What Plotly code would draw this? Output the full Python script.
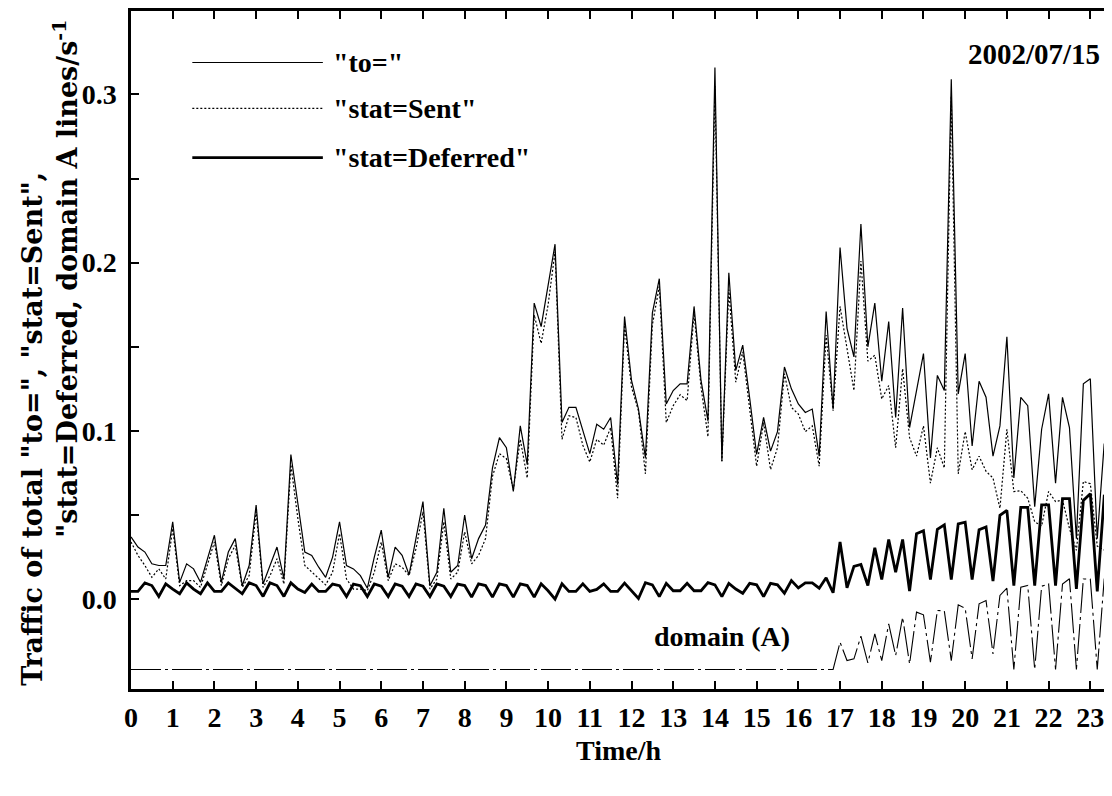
import plotly.graph_objects as go

# ---- data (10-minute samples, hours) ----
time_h = [round(i * 10 / 60, 4) for i in range(144)]

to_total = [
    0.037, 0.031, 0.028, 0.021, 0.020, 0.020, 0.046, 0.010, 0.021, 0.018, 0.010, 0.024,
    0.038, 0.010, 0.028, 0.036, 0.008, 0.020, 0.056, 0.009, 0.020, 0.031, 0.012, 0.086,
    0.057, 0.028, 0.026, 0.019, 0.013, 0.025, 0.046, 0.020, 0.018, 0.014, 0.0065, 0.025,
    0.041, 0.013, 0.031, 0.026, 0.0145, 0.036, 0.058, 0.008, 0.016, 0.054, 0.016, 0.020,
    0.050, 0.024, 0.036, 0.044, 0.078, 0.096, 0.090, 0.064, 0.103, 0.080, 0.176, 0.162,
    0.187, 0.211, 0.105, 0.114, 0.114, 0.100, 0.0865, 0.104, 0.101, 0.108, 0.068, 0.168,
    0.130, 0.113, 0.084, 0.170, 0.1905, 0.116, 0.124, 0.128, 0.128, 0.174, 0.130, 0.106,
    0.316, 0.082, 0.194, 0.136, 0.151, 0.1195, 0.086, 0.108, 0.088, 0.0996, 0.138, 0.125,
    0.116, 0.111, 0.113, 0.085, 0.171, 0.113, 0.209, 0.161, 0.144, 0.223, 0.150, 0.176,
    0.1295, 0.165, 0.108, 0.173, 0.102, 0.124, 0.146, 0.084, 0.133, 0.124, 0.309, 0.122,
    0.146, 0.091, 0.1295, 0.120, 0.085, 0.103, 0.156, 0.072, 0.120, 0.115, 0.055, 0.101,
    0.122, 0.069, 0.120, 0.102, 0.036, 0.128, 0.131, 0.036, 0.0925, 0.0865, 0.048, 0.050,
]

stat_sent = [
    0.034, 0.026, 0.020, 0.013, 0.018, 0.012, 0.042, 0.008, 0.011, 0.011, 0.007, 0.020,
    0.034, 0.008, 0.024, 0.032, 0.007, 0.014, 0.052, 0.007, 0.014, 0.024, 0.009, 0.080,
    0.048, 0.020, 0.016, 0.012, 0.0085, 0.016, 0.039, 0.012, 0.006, 0.006, 0.005, 0.016,
    0.034, 0.011, 0.021, 0.019, 0.014, 0.030, 0.052, 0.006, 0.012, 0.046, 0.012, 0.016,
    0.040, 0.021, 0.026, 0.036, 0.073, 0.0865, 0.0835, 0.065, 0.095, 0.072, 0.169, 0.152,
    0.175, 0.2065, 0.095, 0.109, 0.108, 0.0915, 0.0815, 0.095, 0.0915, 0.102, 0.060, 0.163,
    0.126, 0.112, 0.0745, 0.163, 0.186, 0.105, 0.115, 0.1215, 0.118, 0.170, 0.126, 0.0965,
    0.305, 0.082, 0.184, 0.129, 0.147, 0.113, 0.079, 0.105, 0.077, 0.090, 0.134, 0.114,
    0.110, 0.0996, 0.103, 0.079, 0.157, 0.112, 0.174, 0.149, 0.124, 0.201, 0.1415, 0.145,
    0.119, 0.127, 0.090, 0.137, 0.096, 0.085, 0.103, 0.069, 0.090, 0.078, 0.299, 0.0745,
    0.0996, 0.077, 0.085, 0.076, 0.072, 0.054, 0.101, 0.064, 0.0645, 0.060, 0.046, 0.0435,
    0.064, 0.058, 0.059, 0.042, 0.029, 0.070, 0.0686, 0.0315, 0.029, 0.027, 0.039, 0.040,
]

stat_deferred = [
    0.0046, 0.0046, 0.0097, 0.0081, 0.0016, 0.0091, 0.0060, 0.0032, 0.0097, 0.0060, 0.0032, 0.0097,
    0.0046, 0.0046, 0.0097, 0.0065, 0.0032, 0.0097, 0.0081, 0.0016, 0.0097, 0.0081, 0.0016, 0.0097,
    0.0060, 0.0040, 0.0090, 0.0046, 0.0046, 0.0090, 0.0080, 0.0016, 0.0090, 0.0080, 0.0016, 0.0090,
    0.0077, 0.0016, 0.0090, 0.0077, 0.0016, 0.0090, 0.0077, 0.0016, 0.0090, 0.0077, 0.0016, 0.0090,
    0.0081, 0.0012, 0.0091, 0.0081, 0.0012, 0.0091, 0.0081, 0.0012, 0.0091, 0.0081, 0.0012, 0.0091,
    0.0050, 0.0000, 0.0091, 0.0046, 0.0046, 0.0091, 0.0046, 0.0058, 0.0091, 0.0046, 0.0046, 0.0095,
    0.0050, 0.0004, 0.0098, 0.0085, 0.0015, 0.0094, 0.0050, 0.0050, 0.0094, 0.0050, 0.0050, 0.0098,
    0.0085, 0.0015, 0.0094, 0.0060, 0.0035, 0.0094, 0.0085, 0.0015, 0.0094, 0.0085, 0.0035, 0.0110,
    0.0067, 0.0097, 0.0097, 0.0065, 0.0127, 0.0038, 0.0340, 0.0067, 0.0195, 0.0206, 0.0081, 0.0306,
    0.0117, 0.0355, 0.0160, 0.0355, 0.0048, 0.0389, 0.0407, 0.0117, 0.0415, 0.0442, 0.0117, 0.0448,
    0.0458, 0.0117, 0.0413, 0.0429, 0.0107, 0.0498, 0.0528, 0.0081, 0.0546, 0.0546, 0.0081, 0.0561,
    0.0561, 0.0081, 0.0597, 0.0597, 0.0061, 0.0587, 0.0627, 0.0046, 0.0611, 0.0597, 0.0081, 0.0450,
]

domain_a = [
    -0.0418, -0.0418, -0.0418, -0.0418, -0.0418, -0.0418, -0.0418, -0.0418, -0.0418, -0.0418, -0.0418, -0.0418,
    -0.0418, -0.0418, -0.0418, -0.0418, -0.0418, -0.0418, -0.0418, -0.0418, -0.0418, -0.0418, -0.0418, -0.0418,
    -0.0418, -0.0418, -0.0418, -0.0418, -0.0418, -0.0418, -0.0418, -0.0418, -0.0418, -0.0418, -0.0418, -0.0418,
    -0.0418, -0.0418, -0.0418, -0.0418, -0.0418, -0.0418, -0.0418, -0.0418, -0.0418, -0.0418, -0.0418, -0.0418,
    -0.0418, -0.0418, -0.0418, -0.0418, -0.0418, -0.0418, -0.0418, -0.0418, -0.0418, -0.0418, -0.0418, -0.0418,
    -0.0418, -0.0418, -0.0418, -0.0418, -0.0418, -0.0418, -0.0418, -0.0418, -0.0418, -0.0418, -0.0418, -0.0418,
    -0.0418, -0.0418, -0.0418, -0.0418, -0.0418, -0.0418, -0.0418, -0.0418, -0.0418, -0.0418, -0.0418, -0.0418,
    -0.0418, -0.0418, -0.0418, -0.0418, -0.0418, -0.0418, -0.0418, -0.0418, -0.0418, -0.0418, -0.0418, -0.0418,
    -0.0418, -0.0418, -0.0418, -0.0418, -0.0418, -0.0418, -0.0256, -0.0365, -0.0355, -0.0220, -0.0379, -0.0206,
    -0.0365, -0.0147, -0.0335, -0.0107, -0.0385, -0.0077, -0.0093, -0.0375, -0.0067, -0.0070, -0.0365, -0.0034,
    -0.0054, -0.0355, -0.0028, -0.0008, -0.0325, 0.0022, 0.0065, -0.0418, 0.0071, 0.0081, -0.0418, 0.0077,
    0.0091, -0.0418, 0.0090, 0.0121, -0.0418, 0.0120, 0.0120, -0.0418, 0.0120, 0.0120, -0.0400, 0.0100,
]

hour_ticks = list(range(24))
y_tick_vals = [0.0, 0.05, 0.1, 0.15, 0.2, 0.25, 0.3]
y_tick_text = ["0.0", "", "0.1", "", "0.2", "", "0.3"]

series_names = ['"to="', '"stat=Sent"', '"stat=Deferred"']

FONT = "Liberation Serif, Times New Roman, serif"
TITLE_FONT = "DejaVu Serif, Liberation Serif, serif"
FS = 28
DASH_DOMAIN = "30px,4px,3px,4px"
DASH_SENT = "2px,2px"

fig = go.Figure()
fig.add_trace(go.Scatter(x=time_h, y=domain_a, mode="lines",
                         line=dict(color="black", width=1.1, dash=DASH_DOMAIN), name="domain (A)"))
fig.add_trace(go.Scatter(x=time_h, y=stat_sent, mode="lines",
                         line=dict(color="black", width=1.2, dash=DASH_SENT), name=series_names[1]))
fig.add_trace(go.Scatter(x=time_h, y=to_total, mode="lines",
                         line=dict(color="black", width=1.2), name=series_names[0]))
fig.add_trace(go.Scatter(x=time_h, y=stat_deferred, mode="lines",
                         line=dict(color="black", width=2.8), name=series_names[2]))

# manual legend (long line samples)
legend_y = [0.319, 0.2917, 0.2625]
legend_styles = [dict(width=1.2), dict(width=1.2, dash=DASH_SENT), dict(width=2.8)]
for name, ly, st in zip(series_names, legend_y, legend_styles):
    fig.add_shape(type="line", xref="x", yref="y", x0=1.47, x1=4.60, y0=ly, y1=ly,
                  line=dict(color="black", **st))
    fig.add_annotation(x=4.80, y=ly, xref="x", yref="y", text=name, showarrow=False,
                       xanchor="left", yanchor="middle",
                       font=dict(family=FONT, size=FS, color="black", weight="bold"))

fig.add_annotation(x=0.985, y=0.9367, xref="paper", yref="paper", text="2002/07/15",
                   showarrow=False, xanchor="right", yanchor="middle",
                   font=dict(family=FONT, size=29, color="black", weight="bold"))
fig.add_annotation(x=14.17, y=-0.022, xref="x", yref="y", text="domain (A)",
                   showarrow=False, xanchor="center", yanchor="middle",
                   font=dict(family=FONT, size=FS, color="black", weight="bold"))

# axis titles
fig.add_annotation(x=0.494, y=-0.0913, xref="paper", yref="paper", text="Time/h",
                   showarrow=False, xanchor="center", yanchor="middle",
                   font=dict(family=FONT, size=FS, color="black", weight="bold"))
fig.add_annotation(x=-0.1001, y=0.3843, xref="paper", yref="paper",
                   text='Traffic of total "to=", "stat=Sent",', textangle=-90,
                   showarrow=False, xanchor="center", yanchor="middle",
                   font=dict(family=TITLE_FONT, size=27, color="black", weight="bold"))
fig.add_annotation(x=-0.0667, y=0.6053, xref="paper", yref="paper",
                   text='"stat=Deferred, domain A lines/s<sup>-1</sup>', textangle=-90,
                   showarrow=False, xanchor="center", yanchor="middle",
                   font=dict(family=TITLE_FONT, size=27, color="black", weight="bold"))

axis_common = dict(showgrid=False, zeroline=False, showline=True, linecolor="black",
                   linewidth=2.5, mirror="ticks", ticks="inside", ticklen=8, tickwidth=2,
                   tickcolor="black",
                   tickfont=dict(family=FONT, size=FS, color="black", weight="bold"))

fig.update_layout(
    width=1112, height=796,
    margin=dict(l=123, r=0, t=2, b=115),
    paper_bgcolor="white", plot_bgcolor="white",
    showlegend=False,
    xaxis=dict(range=[0, 23.64], tickvals=hour_ticks, ticklabelstandoff=2, **axis_common),
    yaxis=dict(range=[-0.0534, 0.3496], tickvals=y_tick_vals, ticktext=y_tick_text,
               ticklabelstandoff=6, **axis_common),
)

fig.write_html("out.html")
